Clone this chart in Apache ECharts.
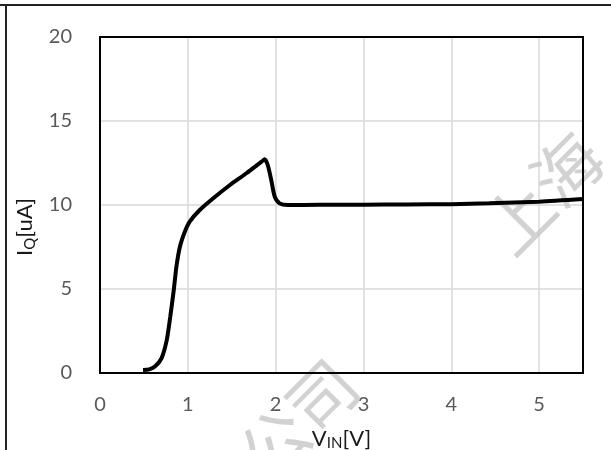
<!DOCTYPE html>
<html>
<head>
<meta charset="utf-8">
<script src="https://cdn.jsdelivr.net/npm/echarts@6/dist/echarts.min.js"></script>
<style>
html,body{margin:0;padding:0;background:#fff;}
#chart{width:611px;height:450px;}
</style>
</head>
<body>
<div id="chart"></div>
<script>
// Data
const vin = [0.49, 0.56, 0.625, 0.70, 0.76, 0.80, 0.84, 0.87, 0.91, 0.966, 1.02, 1.136, 1.29, 1.48, 1.667, 1.84, 1.875, 1.91, 1.95, 1.99, 2.045, 2.14, 2.50, 3.00, 3.50, 4.00, 4.43, 5.00, 5.50];
const iq  = [0.18, 0.22, 0.38, 0.87, 1.96, 3.35, 4.94, 6.33, 7.52, 8.41, 9.00, 9.70, 10.40, 11.19, 11.89, 12.58, 12.72, 12.38, 11.49, 10.50, 10.10, 10.00, 10.01, 10.02, 10.03, 10.05, 10.10, 10.20, 10.35];
const xTicks = [0, 1, 2, 3, 4, 5];
const yTicks = [0, 5, 10, 15, 20];
const xTitle = ['V', 'IN', '[V]'];
const yTitle = ['I', 'Q', '[uA]'];

const font = 'Lato, "Open Sans", "Liberation Sans", sans-serif';
const chart = echarts.init(document.getElementById('chart'), null, {renderer: 'canvas'});
const pts = vin.map((v, i) => [v, iq[i]]);
const G = {left: 100, top: 37, width: 483, height: 336};

chart.setOption({
  animation: false,
  backgroundColor: '#ffffff',
  grid: {left: G.left, top: G.top, width: G.width, height: G.height, show: false, containLabel: false, outerBoundsMode: 'none'},
  xAxis: {
    type: 'value', min: 0, max: 5.5, interval: 1,
    axisLine: {show: false}, axisTick: {show: false},
    splitLine: {show: true, lineStyle: {color: '#d9d9d9', width: 1.5}},
    axisLabel: {
      color: '#595959', fontSize: 20, fontFamily: font, margin: 22,
      formatter: v => (xTicks.indexOf(v) >= 0 ? String(v) : '')
    },
    name: '{a|' + xTitle[0] + '}{s|' + xTitle[1] + '}{a|' + xTitle[2] + '}',
    nameLocation: 'middle', nameGap: 53,
    nameTextStyle: {
      rich: {
        a: {fontSize: 22, color: '#1a1a1a', fontFamily: font},
        s: {fontSize: 15, color: '#1a1a1a', fontFamily: font, padding: [10, 0, 0, 0]}
      }
    }
  },
  yAxis: {
    type: 'value', min: 0, max: 20, interval: 5,
    axisLine: {show: false}, axisTick: {show: false},
    splitLine: {show: true, lineStyle: {color: '#d9d9d9', width: 1.5}},
    axisLabel: {
      color: '#595959', fontSize: 20, fontFamily: font, margin: 28,
      formatter: v => (yTicks.indexOf(v) >= 0 ? String(v) : '')
    },
    name: '{a|' + yTitle[0] + '}{s|' + yTitle[1] + '}{a|' + yTitle[2] + '}',
    nameLocation: 'middle', nameGap: 60, nameRotate: 90,
    nameTextStyle: {
      padding: [0, 44, 0, 0],
      rich: {
        a: {fontSize: 22, color: '#1a1a1a', fontFamily: font},
        s: {fontSize: 15, color: '#1a1a1a', fontFamily: font, padding: [10, 0, 0, 0]}
      }
    }
  },
  graphic: [
    {type: 'line', shape: {x1: 0, y1: 5, x2: 611, y2: 5}, style: {stroke: '#222', lineWidth: 2}, z: 100},
    {type: 'line', shape: {x1: 6, y1: 5, x2: 6, y2: 450}, style: {stroke: '#222', lineWidth: 2}, z: 100},
    {type: 'rect', shape: {x: G.left, y: G.top, width: G.width, height: G.height}, style: {fill: 'none', stroke: '#000', lineWidth: 2}, z: 100},
    {type: 'text', x: 543, y: 193, rotation: Math.PI / 4, z: 1,
      style: {text: '上海', font: '68px "Noto Sans CJK SC"', fill: 'rgba(195,195,195,0.75)', align: 'center', verticalAlign: 'middle'}},
    {type: 'text', x: 298, y: 420, rotation: Math.PI / 4, z: 1,
      style: {text: '公司', font: '68px "Noto Sans CJK SC"', fill: 'rgba(195,195,195,0.75)', align: 'center', verticalAlign: 'middle'}}
  ],
  series: [{
    type: 'line', data: pts, smooth: 0.25, showSymbol: false, symbol: 'none',
    lineStyle: {color: '#000', width: 4}, z: 5
  }]
});
</script>
</body>
</html>
